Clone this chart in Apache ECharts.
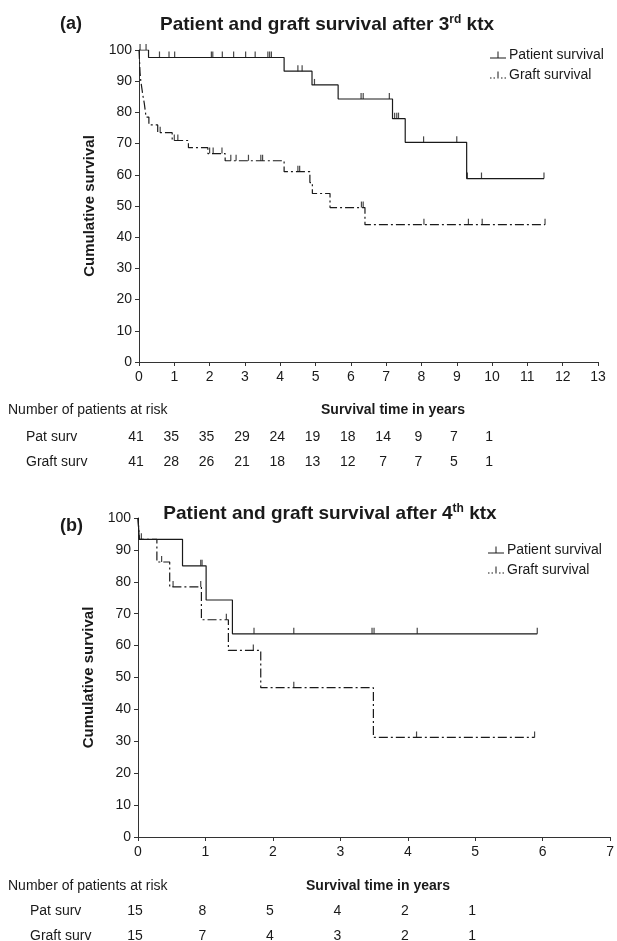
<!DOCTYPE html>
<html>
<head>
<meta charset="utf-8">
<script src="https://cdn.jsdelivr.net/npm/echarts@6/dist/echarts.min.js"></script>
<style>
html, body { margin: 0; padding: 0; background: #fff; }
#container { width: 617px; height: 941px; }
</style>
</head>
<body>
<div id="container"></div>
<script>
// (a) after 3rd ktx : step times (years) and survival (%) after each step
var patTimeA = [0, 0.27, 4.11, 4.9, 5.64, 7.18, 7.54, 9.28, 11.47];
var patSurvA = [100, 97.6, 93.2, 88.8, 84.3, 78.0, 70.4, 58.8, 58.8];
var patCensA = [0.03, 0.2, 0.58, 0.85, 1.01, 2.05, 2.09, 2.36, 2.68, 3.02, 3.29, 3.65, 3.7, 3.75,
                4.5, 4.62, 4.97, 6.29, 6.35, 7.09, 7.24, 7.3, 7.35, 8.06, 9.0, 9.3, 9.7, 11.47];
var graftTimeA = [0, 0.01, 0.02, 0.03, 0.05, 0.08, 0.11, 0.15, 0.2, 0.28, 0.53, 0.94, 1.4, 1.95, 2.44, 4.11, 4.84, 4.91, 5.41, 6.4, 11.5];
var graftSurvA = [100, 97.6, 95.1, 92.7, 90.2, 87.8, 85.4, 82.9, 78.5, 76, 73.5, 71, 68.7, 66.8, 64.5, 61, 57.5, 54, 49.5, 44, 44];
var graftCensA = [0.6, 1.0, 1.1, 2.0, 2.1, 2.35, 2.6, 2.75, 3.1, 3.45, 3.5, 4.5, 4.55, 6.3, 6.35, 8.07, 9.33, 9.72, 11.5];

// (b) after 4th ktx
var patTimeB = [0, 0.02, 0.66, 1.01, 1.40, 5.92];
var patSurvB = [100, 93.3, 85.0, 74.3, 63.7, 63.7];
var patCensB = [0.05, 0.93, 0.95, 1.72, 2.31, 3.47, 3.5, 4.14, 5.92];
var graftTimeB = [0, 0.02, 0.28, 0.47, 0.94, 1.34, 1.82, 3.49, 5.88];
var graftSurvB = [100, 93.3, 86.2, 78.4, 68.1, 58.5, 46.8, 31.2, 31.2];
var graftCensB = [0.35, 0.52, 0.93, 1.31, 1.71, 2.31, 4.13, 5.88];

// numbers at risk
var riskYearsA = [0, 1, 2, 3, 4, 5, 6, 7, 8, 9, 10];
var patRiskA = [41, 35, 35, 29, 24, 19, 18, 14, 9, 7, 1];
var graftRiskA = [41, 28, 26, 21, 18, 13, 12, 7, 7, 5, 1];
var riskYearsB = [0, 1, 2, 3, 4, 5];
var patRiskB = [15, 8, 5, 4, 2, 1];
var graftRiskB = [15, 7, 4, 3, 2, 1];

var FONT = '"Liberation Sans", Arial, sans-serif';
var INK = '#1a1a1a';
var DASH = [9, 3, 2, 3];

function pairs(times, vals) {
    var out = [];
    for (var i = 0; i < times.length; i++) out.push([times[i], vals[i]]);
    return out;
}
// survival level of a step curve at time t (for censoring ticks)
function levelAt(times, vals, t) {
    var v = vals[0];
    for (var i = 0; i < times.length; i++) {
        if (times[i] <= t) v = vals[i];
    }
    return v;
}
function cens(cTimes, times, vals) {
    return cTimes.map(function (t) { return [t, levelAt(times, vals, t)]; });
}

var patIcon = 'path://M0,8H16V9H0Z M7.5,2H8.5V8H7.5Z';
var graftIcon = 'path://M0,8H1.5V9H0Z M3.5,8H5V9H3.5Z M7.5,2H8.5V9H7.5Z M11,8H12.5V9H11Z M14.5,8H16V9H14.5Z';

function xAxis(idx, max) {
    return {
        type: 'value', gridIndex: idx, min: 0, max: max, interval: 1,
        axisLine: { lineStyle: { color: '#333', width: 1 } },
        axisTick: { length: 4, lineStyle: { color: '#333' } },
        axisLabel: { color: INK, fontSize: 14, fontFamily: FONT, margin: 8 },
        splitLine: { show: false }
    };
}
function yAxis(idx) {
    return {
        type: 'value', gridIndex: idx, min: 0, max: 100, interval: 10,
        name: 'Cumulative survival', nameLocation: 'middle', nameRotate: 90, nameGap: 31,
        nameTextStyle: { color: INK, fontSize: 15, fontWeight: 'bold', fontFamily: FONT },
        axisLine: { show: true, lineStyle: { color: '#333', width: 1 } },
        axisTick: { show: true, length: 4, lineStyle: { color: '#333' } },
        axisLabel: { color: INK, fontSize: 14, fontFamily: FONT, margin: 7 },
        splitLine: { show: false }
    };
}
function stepLine(name, idx, times, vals, dashed) {
    return {
        name: name, type: 'line', step: 'end', xAxisIndex: idx, yAxisIndex: idx,
        data: pairs(times, vals), symbol: 'none', silent: true, color: INK,
        itemStyle: { color: INK },
        lineStyle: { color: INK, width: 1.2, type: dashed ? DASH : 'solid' }
    };
}
function censMarks(name, idx, cTimes, times, vals) {
    return {
        name: name, type: 'scatter', xAxisIndex: idx, yAxisIndex: idx, color: INK,
        data: cens(cTimes, times, vals), symbol: 'rect', symbolSize: [1.2, 6], symbolOffset: [0, -3],
        itemStyle: { color: INK }, silent: true, z: 3
    };
}
function legend(left, top) {
    return {
        left: left, top: top, orient: 'vertical', itemGap: 6, itemWidth: 16, itemHeight: 9,
        selectedMode: false,
        itemStyle: { color: INK },
        textStyle: { color: INK, fontSize: 14, fontFamily: FONT, padding: [0, 0, 0, -2] },
        data: [{ name: 'Patient survival', icon: patIcon, itemStyle: { color: INK } },
               { name: 'Graft survival', icon: graftIcon, itemStyle: { color: INK } }]
    };
}

var dom = document.getElementById('container');
var myChart = echarts.init(dom, null, { renderer: 'canvas' });
var option = {
    animation: false,
    backgroundColor: '#fff',
    color: [INK],
    textStyle: { fontFamily: FONT },
    grid: [
        { left: 139, top: 50, width: 459, height: 312 },
        { left: 138, top: 518, width: 475, height: 319 }
    ],
    xAxis: [xAxis(0, 13), xAxis(1, 7)],
    yAxis: [yAxis(0), yAxis(1)],
    legend: [legend(485, 43), legend(483, 538)],
    series: [
        stepLine('Patient survival', 0, patTimeA, patSurvA, false),
        stepLine('Graft survival', 0, graftTimeA, graftSurvA, true),
        censMarks('Patient survival', 0, patCensA, patTimeA, patSurvA),
        censMarks('Graft survival', 0, graftCensA, graftTimeA, graftSurvA),
        stepLine('Patient survival', 1, patTimeB, patSurvB, false),
        stepLine('Graft survival', 1, graftTimeB, graftSurvB, true),
        censMarks('Patient survival', 1, patCensB, patTimeB, patSurvB),
        censMarks('Graft survival', 1, graftCensB, graftTimeB, graftSurvB)
    ]
};
myChart.setOption(option);

// titles, panel letters and the at-risk tables
function txt(x, y, text, size, bold, align) {
    return {
        type: 'text', silent: true,
        style: {
            x: x, y: y, text: text, fill: INK, align: align || 'left', verticalAlign: 'middle',
            font: (bold ? 'bold ' : '') + size + 'px ' + FONT
        }
    };
}
function title(x, y, main, sup) {
    return {
        type: 'text', silent: true,
        style: {
            x: x, y: y, align: 'center', verticalAlign: 'middle',
            text: '{t|' + main + '}{s|' + sup + '}{t| ktx}',
            rich: {
                t: { fontSize: 19, fontWeight: 'bold', fontFamily: FONT, fill: INK, lineHeight: 22 },
                s: { fontSize: 12, fontWeight: 'bold', fontFamily: FONT, fill: INK, verticalAlign: 'top', lineHeight: 22 }
            }
        }
    };
}
function riskRows(idx, years, pat, graft, labelX, yNum, yPat, yGraft, centerX) {
    var els = [
        txt(8, yNum, 'Number of patients at risk', 14, false),
        txt(centerX, yNum, 'Survival time in years', 14, true, 'center'),
        txt(labelX, yPat, 'Pat surv', 14, false),
        txt(labelX, yGraft, 'Graft surv', 14, false)
    ];
    for (var i = 0; i < years.length; i++) {
        var px = myChart.convertToPixel({ xAxisIndex: idx }, years[i]) - 3;
        els.push(txt(px, yPat, String(pat[i]), 14, false, 'center'));
        els.push(txt(px, yGraft, String(graft[i]), 14, false, 'center'));
    }
    return els;
}

var graphics = [
    txt(60, 24, '(a)', 18, true),
    title(327, 25, 'Patient and graft survival after 3', 'rd'),
    txt(60, 526, '(b)', 18, true),
    title(330, 514, 'Patient and graft survival after 4', 'th')
];
graphics = graphics.concat(riskRows(0, riskYearsA, patRiskA, graftRiskA, 26, 410, 437, 462, 393));
graphics = graphics.concat(riskRows(1, riskYearsB, patRiskB, graftRiskB, 30, 886, 911, 936, 378));
myChart.setOption({ graphic: graphics });
</script>
</body>
</html>
